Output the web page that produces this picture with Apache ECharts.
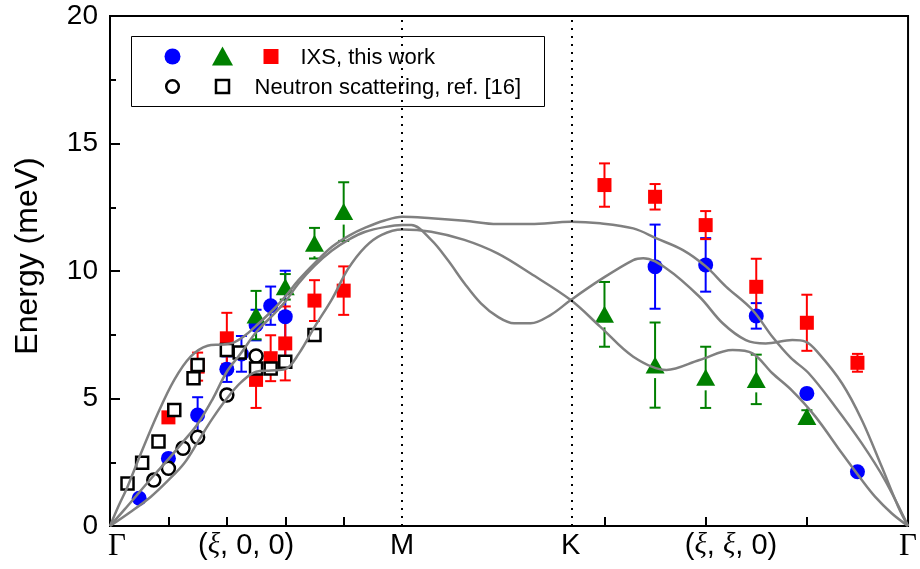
<!DOCTYPE html>
<html lang="en">
<head>
<meta charset="utf-8">
<title>Phonon dispersion</title>
<script src="https://cdn.jsdelivr.net/npm/echarts@6.0.0/dist/echarts.min.js"></script>
<style>
  html, body { margin: 0; padding: 0; background: #fff; }
  #main { width: 920px; height: 569px; }
</style>
</head>
<body>
<div id="main"></div>
<script>
// path coordinate along Γ-M-K-Γ, in units of |a*|
const M_POS = 0.5;
const K_POS = 0.5 + 1 / (2 * Math.sqrt(3));
const G_END = K_POS + 1 / Math.sqrt(3);
function gk(xi) { return G_END - Math.sqrt(3) * xi; }   // (xi, xi, 0) -> path

// IXS data, rows are [xi, energy, error]
const ixsBlueGM  = [[0.05, 1.09, 0], [0.10, 2.65, 0], [0.15, 4.35, 0.7], [0.20, 6.15, 0.5], [0.225, 6.75, 0.7],
                    [0.25, 7.88, 0.6], [0.275, 8.64, 0.75], [0.30, 8.21, 1.8]];
const ixsBlueKG  = [[0.25, 10.17, 1.65], [0.20, 10.24, 1.05], [0.15, 8.24, 0.5], [0.10, 5.20, 0], [0.05, 2.13, 0]];
const ixsGreenGM = [[0.25, 8.27, 0.95], [0.30, 9.38, 0.5], [0.35, 11.09, 0.6], [0.40, 12.33, 1.15]];
const ixsGreenKG = [[0.30, 8.30, 1.27], [0.25, 6.31, 1.67], [0.20, 5.83, 1.2], [0.15, 5.75, 0.97], [0.10, 4.29, 0.25]];
const ixsRedGM   = [[0.10, 4.26, 0.15], [0.15, 6.25, 0.55], [0.20, 7.36, 1.0], [0.25, 5.73, 1.1], [0.275, 6.58, 0.9],
                    [0.30, 7.16, 1.45], [0.35, 8.84, 0.8], [0.40, 9.23, 0.95]];
const ixsRedKG   = [[0.30, 13.37, 0.85], [0.25, 12.91, 0.5], [0.20, 11.80, 0.55], [0.15, 9.38, 1.1], [0.10, 7.97, 1.1],
                    [0.05, 6.40, 0.35]];

// neutron data (xi, energy), along (xi, 0, 0)
const nsCircle = [[0.075, 1.80], [0.10, 2.26], [0.125, 3.05], [0.15, 3.48], [0.20, 5.14], [0.25, 6.67]];
const nsSquare = [[0.03, 1.67], [0.055, 2.48], [0.083, 3.31], [0.11, 4.55], [0.143, 5.79], [0.15, 6.31],
                  [0.20, 6.90], [0.222, 6.80], [0.25, 6.18], [0.275, 6.18], [0.30, 6.44], [0.35, 7.49]];

// calculated branches, [path, energy]
const calc1 = [[0, 0], [0.015, 0.8], [0.03, 1.54], [0.053, 2.85], [0.082, 4.42], [0.11, 5.73], [0.138, 6.64],
  [0.167, 7.07], [0.19, 7.12], [0.21, 7.18], [0.23, 7.45], [0.25, 7.85], [0.28, 8.5], [0.30, 9.0], [0.323, 9.65],
  [0.35, 10.3], [0.38, 10.95], [0.41, 11.4], [0.437, 11.7], [0.47, 11.98], [0.5, 12.13],
  [0.55, 12.07], [0.607, 11.97], [0.663, 11.84], [0.72, 11.84], [0.7887, 11.93],
  [0.839, 11.87], [0.8957, 11.67], [0.9354, 11.28], [0.9808, 10.82], [1.0204, 10.17], [1.0544, 9.39],
  [1.0998, 8.47], [1.1338, 7.42], [1.165, 6.6], [1.196, 5.99], [1.2415, 4.68], [1.2869, 3.24], [1.3265, 1.8],
  [1.366, 0]];
const calc2 = [[0, 0], [0.025, 0.65], [0.05, 1.32], [0.075, 1.98], [0.10, 2.62], [0.125, 3.3], [0.15, 4.0],
  [0.175, 4.95], [0.20, 6.05], [0.225, 6.8], [0.25, 7.6], [0.28, 8.3], [0.30, 8.8], [0.323, 9.52], [0.35, 10.2],
  [0.38, 10.8], [0.41, 11.25], [0.437, 11.54], [0.47, 11.72], [0.5, 11.80],
  [0.5158, 11.80], [0.5498, 11.22], [0.5782, 10.43], [0.6066, 9.52], [0.6349, 8.73], [0.6633, 8.21],
  [0.6916, 7.95], [0.72, 7.95], [0.7539, 8.27], [0.7887, 8.86],
  [0.839, 9.65], [0.8957, 10.43], [0.9127, 10.5], [0.9524, 10.1], [1.009, 8.99], [1.0488, 7.95],
  [1.0884, 7.29], [1.1224, 7.16], [1.1679, 7.29], [1.1905, 7.23], [1.2131, 6.77], [1.2529, 5.6],
  [1.2869, 4.16], [1.3209, 2.33], [1.3492, 0.76], [1.366, 0]];
const calc3 = [[0, 0], [0.035, 0.55], [0.07, 1.15], [0.10, 1.8], [0.127, 2.46], [0.153, 3.4], [0.175, 4.2],
  [0.20, 5.0], [0.225, 5.65], [0.25, 6.05], [0.275, 6.1], [0.30, 6.15], [0.323, 6.75], [0.35, 7.8],
  [0.38, 8.9], [0.408, 10.1], [0.437, 10.95], [0.465, 11.42], [0.5, 11.63],
  [0.5498, 11.54], [0.6066, 11.22], [0.6633, 10.69], [0.72, 9.9], [0.7887, 8.86],
  [0.839, 7.82], [0.8957, 6.64], [0.9524, 6.12], [1.009, 6.51], [1.0657, 6.9], [1.0998, 6.77],
  [1.1338, 5.99], [1.1679, 5.3], [1.2075, 4.29], [1.2529, 2.85], [1.2869, 1.8], [1.3095, 1.15],
  [1.3379, 0.5], [1.366, 0]];

// axis ticks and labels
const xTickPos = [0.1, 0.2, 0.3, 0.4, gk(0.3), gk(0.2), gk(0.1)];
const xLabelPos = [0.012, 0.233, M_POS, K_POS, 1.063, G_END];
const xLabelText = ['Γ', '(ξ, 0, 0)', 'M', 'K', '(ξ, ξ, 0)', 'Γ'];

const FONT = '"Liberation Sans", Arial, sans-serif';
const SERIF = '"Liberation Serif", "Times New Roman", serif';

function pts(rows, side) {
  return rows.map(r => [side === 'gm' ? r[0] : gk(r[0]), r[1]]);
}
function errs(rows, side) {
  return rows.filter(r => r[2] > 0)
    .map(r => [side === 'gm' ? r[0] : gk(r[0]), r[1] - r[2], r[1] + r[2], r[1]]);
}

function errBar(color, gap) {
  return function (params, api) {
    const x = api.value(0);
    const lo = api.coord([x, api.value(1)]);
    const hi = api.coord([x, api.value(2)]);
    const mid = api.coord([x, api.value(3)]);
    const cx = lo[0], w = 5.5;
    const st = { stroke: color, lineWidth: 2 };
    const children = [
      { type: 'line', shape: { x1: cx - w, y1: hi[1], x2: cx + w, y2: hi[1] }, style: st },
      { type: 'line', shape: { x1: cx - w, y1: lo[1], x2: cx + w, y2: lo[1] }, style: st },
      { type: 'line', shape: { x1: cx, y1: hi[1], x2: cx, y2: mid[1] }, style: st }
    ];
    if (mid[1] + gap < lo[1]) {
      children.push({ type: 'line', shape: { x1: cx, y1: mid[1] + gap, x2: cx, y2: lo[1] }, style: st });
    }
    return { type: 'group', children: children };
  };
}

function errSeries(data, color, gap) {
  return { type: 'custom', renderItem: errBar(color, gap), data: data, encode: { x: 0, y: [1, 2] }, silent: true };
}

function curve(data, withLines) {
  const s = {
    type: 'line', data: data, smooth: 0.35, symbol: 'none', silent: true,
    lineStyle: { color: '#808080', width: 2.5 }
  };
  if (withLines) {
    s.markLine = {
      silent: true, symbol: 'none', label: { show: false },
      lineStyle: { color: '#000', type: [2, 6], width: 2 },
      data: [{ xAxis: M_POS }, { xAxis: K_POS }]
    };
  }
  return s;
}

function richLabel(t) {
  return t.split(/(Γ|ξ)/).filter(Boolean)
    .map(p => p === 'Γ' ? '{g|Γ}' : p === 'ξ' ? '{i|ξ}' : '{n|' + p + '}').join('');
}

const chart = echarts.init(document.getElementById('main'));

chart.setOption({
  animation: false,
  grid: { left: 110, right: 7, top: 16, bottom: 43, show: true, borderColor: '#000', borderWidth: 2 },
  xAxis: {
    type: 'value', min: 0, max: G_END,
    axisLine: { onZero: false, lineStyle: { color: '#000', width: 2 } },
    axisTick: { inside: true, length: 9, lineStyle: { color: '#000', width: 2 }, customValues: xTickPos },
    axisLabel: {
      customValues: xLabelPos, margin: 5,
      formatter: function (v) {
        let best = 0;
        xLabelPos.forEach((p, i) => { if (Math.abs(p - v) < Math.abs(xLabelPos[best] - v)) best = i; });
        return richLabel(xLabelText[best]);
      },
      rich: {
        n: { fontSize: 29, fontFamily: FONT, color: '#000' },
        g: { fontSize: 31, fontFamily: SERIF, color: '#000' },
        i: { fontSize: 29, fontFamily: SERIF, fontStyle: 'italic', color: '#000' }
      }
    },
    splitLine: { show: false }
  },
  yAxis: {
    type: 'value', min: 0, max: 20, interval: 5,
    name: 'Energy (meV)', nameLocation: 'middle', nameGap: 66,
    nameTextStyle: { fontSize: 32, fontFamily: FONT, color: '#000', padding: [0, 0, 0, 30] },
    axisLine: { show: true, lineStyle: { color: '#000', width: 2 } },
    axisTick: { inside: true, length: 10, lineStyle: { color: '#000', width: 2 } },
    minorTick: { show: true, splitNumber: 2, length: 6, lineStyle: { color: '#000', width: 2 } },
    axisLabel: { fontSize: 28, fontFamily: FONT, color: '#000', margin: 12 },
    splitLine: { show: false }
  },
  series: [
    curve(calc1, true),
    curve(calc2, false),
    curve(calc3, false),
    errSeries(errs(ixsBlueGM, 'gm').concat(errs(ixsBlueKG, 'kg')), '#0000ff', 0),
    { type: 'scatter', data: pts(ixsBlueGM, 'gm').concat(pts(ixsBlueKG, 'kg')), symbol: 'circle', symbolSize: 15,
      itemStyle: { color: '#0000ff', opacity: 1 }, silent: true },
    errSeries(errs(ixsGreenGM, 'gm').concat(errs(ixsGreenKG, 'kg')), '#008000', 13),
    { type: 'scatter', data: pts(ixsGreenGM, 'gm').concat(pts(ixsGreenKG, 'kg')), symbol: 'triangle', symbolSize: [19, 17],
      itemStyle: { color: '#008000', opacity: 1 }, silent: true },
    errSeries(errs(ixsRedGM, 'gm').concat(errs(ixsRedKG, 'kg')), '#ff0000', 0),
    { type: 'scatter', data: pts(ixsRedGM, 'gm').concat(pts(ixsRedKG, 'kg')), symbol: 'rect', symbolSize: 14,
      itemStyle: { color: '#ff0000', opacity: 1 }, silent: true },
    { type: 'scatter', data: pts(nsCircle, 'gm'), symbol: 'circle', symbolSize: 13,
      itemStyle: { color: '#fff', borderColor: '#000', borderWidth: 2.5, opacity: 1 }, silent: true },
    { type: 'scatter', data: pts(nsSquare, 'gm'), symbol: 'rect', symbolSize: 12,
      itemStyle: { color: '#fff', borderColor: '#000', borderWidth: 2.5, opacity: 1 }, silent: true }
  ],
  graphic: [{
    type: 'group', left: 131, top: 36, z: 100,
    children: [
      { type: 'rect', shape: { x: 0, y: 0, width: 413, height: 70 }, style: { fill: '#fff', stroke: '#000', lineWidth: 1 } },
      { type: 'circle', shape: { cx: 41, cy: 20, r: 8 }, style: { fill: '#0000ff' } },
      { type: 'polygon', shape: { points: [[91, 10], [101.5, 29], [80.5, 29]] }, style: { fill: '#008000' } },
      { type: 'rect', shape: { x: 132, y: 12.5, width: 15, height: 15 }, style: { fill: '#ff0000' } },
      { type: 'text', style: { text: 'IXS, this work', x: 169, y: 21, verticalAlign: 'middle', font: '22px ' + FONT, fill: '#000' } },
      { type: 'circle', shape: { cx: 41, cy: 50, r: 6.3 }, style: { fill: '#fff', stroke: '#000', lineWidth: 2.5 } },
      { type: 'rect', shape: { x: 84.5, y: 43.5, width: 13, height: 13 }, style: { fill: '#fff', stroke: '#000', lineWidth: 2.5 } },
      { type: 'text', style: { text: 'Neutron scattering, ref. [16]', x: 123, y: 51, verticalAlign: 'middle', font: '22px ' + FONT, fill: '#000' } }
    ]
  }]
});
</script>
</body>
</html>
